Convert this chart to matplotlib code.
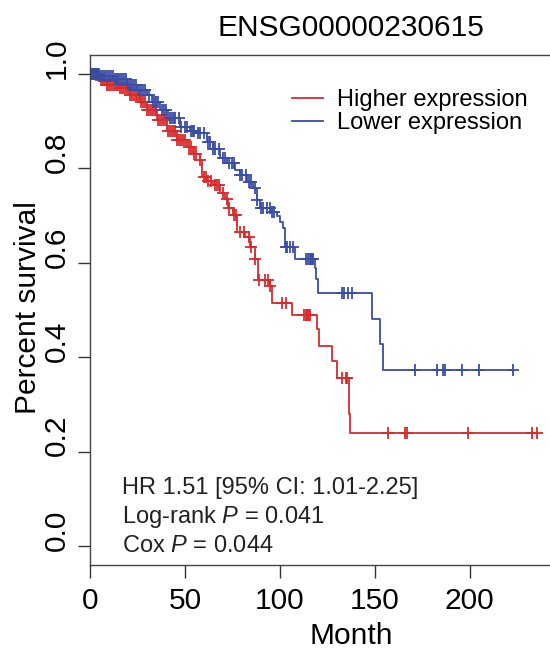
"""
Kaplan-Meier survival plot, high vs low expression of ENSG00000230615.
Steps and censor times read off the published figure.
"""
import numpy as np
import matplotlib
matplotlib.use("Agg")
import matplotlib.pyplot as plt
from matplotlib.transforms import ScaledTranslation

plt.rcParams["font.family"] = ["Liberation Sans", "DejaVu Sans"]
plt.rcParams["mathtext.fontset"] = "custom"
plt.rcParams["mathtext.rm"] = "Liberation Sans"
plt.rcParams["mathtext.it"] = "Liberation Sans:italic"

GENE = "ENSG00000230615"
LABELS = ["Higher expression", "Lower expression"]
COLORS = ["#D92B2B", "#3A4DA6"]
STATS = ["HR 1.51 [95% CI: 1.01-2.25]",
         "Log-rank $\\mathit{P}$ = 0.041",
         "Cox $\\mathit{P}$ = 0.044"]

# ---- higher expression: step times (months) and survival after each step ----
high_t = [0, 5.3, 8.9, 15.8, 21.0, 26.3, 30.0, 35.3, 40.5, 45.8, 51.0, 54.2,
          57.9, 59.0, 61.6, 64.7, 68.4, 71.0, 72.6, 75.3, 77.4, 81.6, 84.2,
          86.8, 88.4, 94.7, 95.8, 106.3, 119.5, 120.5, 127.4, 130.0, 136.3,
          136.8]
high_s = [1.0, 0.987, 0.977, 0.970, 0.955, 0.940, 0.924, 0.903, 0.880, 0.860,
          0.846, 0.830, 0.818, 0.782, 0.774, 0.765, 0.748, 0.735, 0.717,
          0.702, 0.666, 0.655, 0.634, 0.607, 0.564, 0.550, 0.514, 0.490,
          0.459, 0.423, 0.391, 0.357, 0.279, 0.239]
high_cens = [0.5, 1, 1.5, 2, 3, 4, 5, 6, 7, 8, 9, 10, 11, 12, 13, 14, 15, 16,
             17, 18, 19, 20, 21, 22, 23, 24, 25, 26, 27, 28, 29, 30, 31, 32,
             33, 34, 35, 36, 37, 38, 39, 40, 41, 42, 43, 44, 45, 46, 47, 48,
             49, 50, 52, 53, 55, 56, 58, 60, 61, 62, 64, 66, 67, 68, 70, 72,
             73, 76, 77, 79, 81, 84, 85, 87, 89, 92, 94, 95, 101, 103, 113,
             114, 114.5, 115, 115.5, 116, 133, 135, 135.5, 157, 166, 167,
             199, 233, 235.5]

# ---- lower expression ----
low_t = [0, 5.0, 12.1, 19.5, 24.7, 30.0, 32.6, 36.8, 41.0, 47.4, 52.6, 56.8,
         61.6, 64.7, 68.4, 72.1, 76.3, 79.0, 82.6, 85.8, 87.9, 89.5, 95.8,
         98.4, 100.0, 101.6, 102.6, 108.0, 118.4, 119.3, 120.0, 148.4, 152.6,
         154.2]
low_s = [1.0, 0.995, 0.990, 0.977, 0.966, 0.955, 0.940, 0.924, 0.907, 0.888,
         0.880, 0.875, 0.856, 0.840, 0.822, 0.812, 0.797, 0.786, 0.772,
         0.759, 0.734, 0.717, 0.708, 0.700, 0.687, 0.674, 0.634, 0.607,
         0.590, 0.565, 0.535, 0.480, 0.427, 0.374]
low_cens = [0.5, 1, 1.5, 2, 2.5, 3, 3.5, 4, 5, 6, 7, 8, 9, 10, 11, 12, 13,
            14, 15, 16, 17, 18, 19, 20, 21, 22, 23, 24, 26, 27, 28, 29, 31,
            33, 34, 35, 36, 38, 39, 40, 42, 43, 44, 45, 47, 48, 50, 51, 53,
            54, 55, 57, 58, 60, 62, 63, 65, 66, 68, 70, 71, 73, 75, 76, 79,
            80, 82, 84, 85, 87, 88, 90, 91, 93, 95, 96, 97, 103, 104, 105.5,
            107, 114, 115, 116, 116.5, 117, 117.5, 132.6, 134, 135.8, 137.9,
            171, 182.6, 186, 187, 196, 204.7, 222.6]

XLIM = (0, 275)
YLIM = (-0.04, 1.04)
XTICKS = [0, 50, 100, 150, 200]
YTICKS = [0.0, 0.2, 0.4, 0.6, 0.8, 1.0]


def step_at(t, s, x):
    t, s = np.asarray(t), np.asarray(s)
    return s[np.searchsorted(t, x, side="right") - 1]


def draw_km(ax, t, s, cens, color, label):
    end = max(max(t), max(cens))
    tt = np.append(t, end)
    ss = np.append(s, s[-1])
    ax.step(tt, ss, where="post", color=color, lw=1.3, label=label)
    cens = np.asarray(cens)
    ax.plot(cens, step_at(t, s, cens), ls="none", marker="+", ms=8,
            mew=1.3, color=color)


fig = plt.figure(figsize=(5.5, 6.52), dpi=100)
# plot region runs off the right edge, as in the cropped original
ax = fig.add_axes([90 / 550, 87 / 652, 522 / 550, 510 / 652])

draw_km(ax, high_t, high_s, high_cens, COLORS[0], LABELS[0])
draw_km(ax, low_t, low_s, low_cens, COLORS[1], LABELS[1])

ax.set_xlim(*XLIM)
ax.set_ylim(*YLIM)
ax.set_xticks(XTICKS)
ax.set_yticks(YTICKS)
ax.tick_params(length=9, width=1, color="#333333", labelsize=21.5)
ax.tick_params(axis="x", pad=7)
ax.tick_params(axis="y", labelleft=False)
# y labels: rotated, sitting a little above their ticks as in the original
ylab_tr = ax.get_yaxis_transform() + ScaledTranslation(-0.19, 0.16,
                                                       fig.dpi_scale_trans)
for v in YTICKS:
    ax.text(0, v, f"{v:.1f}", transform=ylab_tr, rotation=90,
            ha="right", va="center", fontsize=21.5, clip_on=False)
for sp in ax.spines.values():
    sp.set_color("#444444")
    sp.set_linewidth(1.0)

ax.set_xlabel("Month", fontsize=21.5, labelpad=5)
ax.set_ylabel("Percent survival", fontsize=21.5)
ax.yaxis.set_label_coords(-0.092, 0.505)
ax.set_title(GENE, fontsize=21.5, pad=14)

ax.legend(loc="upper left", bbox_to_anchor=(0.355, 0.966), frameon=False,
          fontsize=17, handlelength=1.3, handletextpad=0.6,
          labelspacing=0.06, borderpad=0.2)

for i, line in enumerate(STATS):
    ax.text(0.062, 0.151 - i * 0.057, line, transform=ax.transAxes,
            fontsize=17, color="#222222", va="center", ha="left")

fig.savefig("out.png", dpi=100)
